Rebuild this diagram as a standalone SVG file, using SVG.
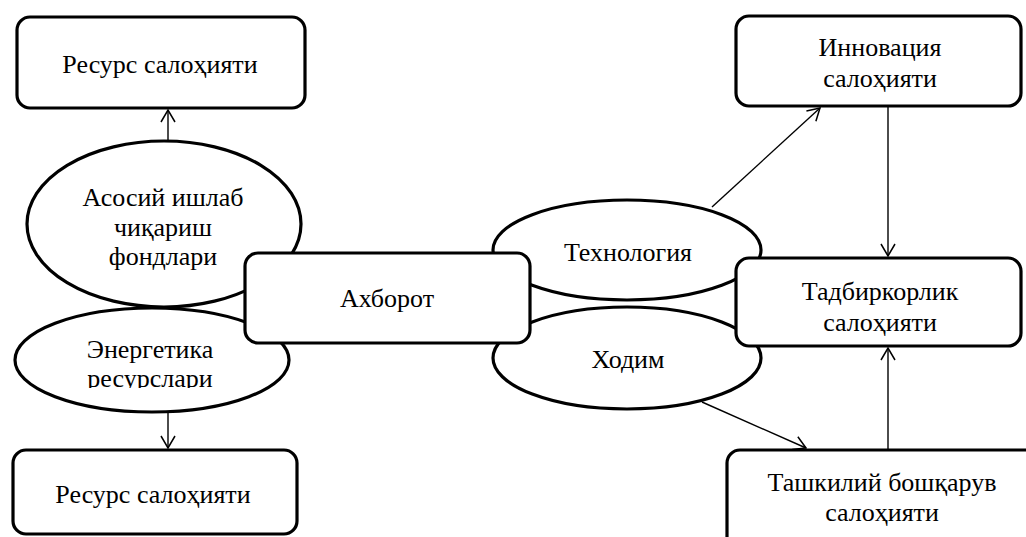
<svg xmlns="http://www.w3.org/2000/svg" width="1026" height="537" viewBox="0 0 1026 537">
<style>
.box{fill:#fff;stroke:#000;stroke-width:3.2}
.ell{fill:#fff;stroke:#000;stroke-width:3.2}
.t{font-family:"Liberation Serif","Times New Roman",serif;font-size:26px;fill:#000;text-anchor:middle}
.c{stroke:#000;stroke-width:1.4;fill:none}
</style>
<defs>
<marker id="ah" viewBox="0 0 14 16" refX="13" refY="8" markerWidth="14" markerHeight="16" orient="auto" markerUnits="userSpaceOnUse">
<path d="M1,1 L13,8 L1,15" fill="none" stroke="#000" stroke-width="1.5"/>
</marker>
<clipPath id="clipE2"><rect x="0" y="300" width="320" height="88"/></clipPath>
</defs>
<rect width="1026" height="537" fill="#fff"/>
<g id="connectors">
<line class="c" x1="168" y1="141" x2="168" y2="110" marker-end="url(#ah)"/>
<line class="c" x1="168" y1="412" x2="168" y2="448" marker-end="url(#ah)"/>
<line class="c" x1="712" y1="207" x2="820" y2="108" marker-end="url(#ah)"/>
<line class="c" x1="888" y1="106" x2="888" y2="256" marker-end="url(#ah)"/>
<line class="c" x1="888" y1="449" x2="888" y2="348" marker-end="url(#ah)"/>
<line class="c" x1="702" y1="402" x2="806" y2="448" marker-end="url(#ah)"/>
</g>
<g id="resurs-top">
<rect class="box" x="17" y="17" width="288" height="91" rx="13"/>
<text class="t" x="160" y="73">Ресурс салоҳияти</text>
</g>
<g id="asosiy">
<ellipse class="ell" cx="164" cy="224" rx="137" ry="83"/>
<text class="t" x="163" y="206">Асосий ишлаб</text>
<text class="t" x="163" y="236">чиқариш</text>
<text class="t" x="163" y="265">фондлари</text>
</g>
<g id="energetika">
<ellipse class="ell" cx="152" cy="360" rx="137" ry="52"/>
<text class="t" x="150" y="358">Энергетика</text>
<text class="t" x="150" y="387" clip-path="url(#clipE2)">ресурслари</text>
</g>
<g id="resurs-bottom">
<rect class="box" x="13" y="450" width="284" height="84" rx="13"/>
<text class="t" x="153" y="503">Ресурс салоҳияти</text>
</g>
<g id="texnologiya">
<ellipse class="ell" cx="627" cy="250" rx="134" ry="50"/>
<text class="t" x="628" y="261">Технология</text>
</g>
<g id="xodim">
<ellipse class="ell" cx="627" cy="358" rx="134" ry="51"/>
<text class="t" x="628" y="368">Ходим</text>
</g>
<g id="axborot">
<rect class="box" x="245" y="253" width="285" height="90" rx="13"/>
<text class="t" x="387" y="307">Ахборот</text>
</g>
<g id="innovatsiya">
<rect class="box" x="736" y="16" width="285" height="90" rx="13"/>
<text class="t" x="880" y="56">Инновация</text>
<text class="t" x="880" y="87">салоҳияти</text>
</g>
<g id="tadbirkorlik">
<rect class="box" x="736" y="258" width="285" height="88" rx="13"/>
<text class="t" x="880" y="300">Тадбиркорлик</text>
<text class="t" x="880" y="331">салоҳияти</text>
</g>
<g id="tashkiliy">
<rect class="box" x="727" y="450" width="320" height="110" rx="13"/>
<text class="t" x="882" y="491">Ташкилий бошқарув</text>
<text class="t" x="882" y="521">салоҳияти</text>
</g>
</svg>
